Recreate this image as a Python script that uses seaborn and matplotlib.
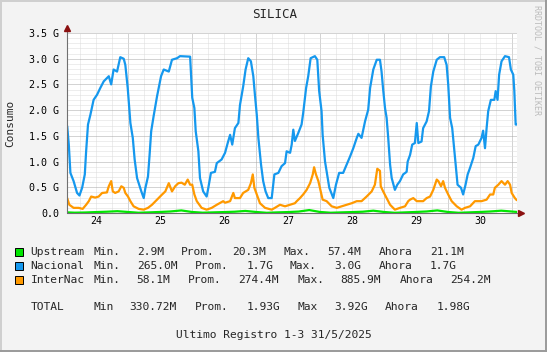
import matplotlib
matplotlib.use('Agg')
import numpy as np
import matplotlib.pyplot as plt
import seaborn as sns
from matplotlib.patches import Rectangle
from matplotlib.lines import Line2D

# hours counted from 24/5 00:00, values in G
nacional_h = [1.2, 1.8, 2.4, 3.6, 4.9, 5.8, 6.8, 7.8, 8.3, 9.0, 9.9, 11.1, 12.4, 13.6, 14.9, 16.8,
              17.7, 18.6, 19.9, 21.1, 22.4, 23.0, 23.9, 24.9, 25.8, 26.5, 27.4, 29.0, 29.9, 30.5,
              31.5, 32.1, 32.7, 33.6, 34.9, 36.4, 37.4, 39.3, 40.5, 42.4, 43.5, 47.3, 47.6, 48.1,
              48.9, 49.4, 50.4, 51.0, 52.2, 53.5, 54.1, 55.1, 56.6, 57.3, 59.1, 60.4, 61.4, 62.3,
              63.1, 64.1, 65.4, 66.0, 67.2, 68.1, 69.1, 70.1, 71.0, 71.6, 72.3, 72.9, 73.9, 74.7,
              75.6, 76.6, 77.9, 78.9, 80.4, 81.6, 82.9, 83.5, 84.8, 85.4, 86.0, 86.6, 87.9, 89.1,
              89.7, 90.8, 91.6, 92.5, 94.1, 95.0, 95.7, 96.6, 97.0, 97.9, 98.7, 99.5, 101.0, 102.0,
              103.2, 104.7, 106.0, 107.3, 108.5, 109.8, 110.4, 111.6, 112.9, 114.1, 114.8, 116.0,
              117.3, 118.5, 119.1, 119.7, 120.4, 121.0, 121.6, 122.3, 122.9, 124.1, 125.0, 126.0,
              127.2, 128.5, 128.9, 129.8, 130.6, 131.6, 132.3, 132.9, 134.1, 134.7, 136.0, 136.9,
              137.6, 138.5, 139.8, 141.0, 142.6, 143.5, 144.1, 144.8, 145.6, 146.4, 146.9, 147.6,
              148.9, 149.7, 150.6, 151.4, 152.3, 153.5, 154.4, 155.4, 156.6, 157.2, 157.9, 158.5,
              159.1, 160.1, 161.4, 161.9, 162.6, 163.2, 164.1, 165.4, 166.9, 167.6, 168.5, 168.9,
              169.4, 169.8]
nacional_v = [1.69, 1.33, 0.78, 0.62, 0.39, 0.34, 0.49, 0.75, 1.20, 1.72, 1.91, 2.20, 2.30, 2.43, 2.56, 2.66,
              2.50, 2.79, 2.75, 3.03, 3.00, 2.88, 2.43, 1.75, 1.46, 1.04, 0.68, 0.42, 0.29, 0.48,
              0.71, 1.13, 1.59, 1.88, 2.27, 2.66, 2.79, 2.75, 2.98, 3.01, 3.05, 3.04, 2.75, 2.24,
              2.04, 1.59, 1.20, 0.68, 0.42, 0.32, 0.48, 0.78, 0.80, 0.97, 1.04, 1.17, 1.36, 1.52,
              1.33, 1.65, 1.75, 2.10, 2.46, 2.79, 3.01, 2.95, 2.66, 2.30, 1.91, 1.46, 0.94, 0.62,
              0.42, 0.29, 0.29, 0.75, 0.78, 0.91, 0.97, 1.20, 1.17, 1.33, 1.62, 1.40, 1.56, 1.72,
              1.94, 2.43, 2.66, 3.01, 3.05, 2.98, 2.37, 1.98, 1.52, 1.00, 0.75, 0.49, 0.29, 0.55,
              0.78, 0.78, 0.94, 1.10, 1.26, 1.46, 1.54, 1.46, 1.78, 2.01, 2.43, 2.79,
              2.98, 2.98, 2.75, 2.40, 2.04, 1.85, 1.46, 0.94, 0.68, 0.45, 0.55, 0.62,
              0.75, 0.80, 1.00, 1.13, 1.33, 1.36, 1.75, 1.36, 1.39, 1.65, 1.78, 1.98,
              2.46, 2.75, 2.98, 3.03, 3.03, 2.88, 2.50, 1.85, 1.65, 1.20, 0.94, 0.55,
              0.49, 0.36, 0.55, 0.75, 0.88, 1.07, 1.30, 1.33, 1.46, 1.60, 1.26, 1.65,
              1.98, 2.20, 2.20, 2.37, 2.20, 2.69, 2.95, 3.05, 3.03, 2.79, 2.69, 2.37,
              1.72, 1.72]

internac_h = [1.2, 2.0, 3.6, 5.5, 7.0, 8.3, 9.3, 10.2, 11.7, 13.0, 14.3, 16.1, 16.8, 17.7, 18.3, 19.2,
              20.5, 21.5, 22.4, 23.0, 24.0, 24.9, 26.1, 28.0, 29.9, 31.5, 33.0, 34.9, 36.8, 38.0,
              39.3, 40.5, 41.7, 42.9, 44.1, 45.3, 46.4, 47.3, 48.1, 48.9, 49.8, 51.6, 53.5, 55.4,
              57.3, 59.7, 60.4, 62.3, 63.5, 64.1, 66.0, 67.2, 69.1, 70.1, 70.8, 71.4, 72.3, 73.5,
              75.4, 77.9, 79.1, 81.0, 82.9, 84.8, 86.6, 87.3, 88.5, 89.7, 91.0, 92.3, 93.3, 93.8,
              94.5, 95.4, 96.3, 97.0, 98.5, 100.4, 102.3, 104.1, 106.0, 107.9, 109.8, 111.6, 113.5,
              115.4, 116.6, 117.5, 118.5, 118.8, 119.7, 121.0, 122.3, 124.1, 126.0, 127.9, 129.1,
              129.8, 131.0, 132.3, 134.7, 136.0, 137.3, 138.5, 139.8, 140.4, 141.4, 142.2, 142.9,
              144.1, 145.4, 147.3, 149.1, 150.4, 152.3, 154.1, 156.6, 158.5, 159.8, 161.0, 161.6,
              162.9, 164.1, 165.4, 166.4, 167.3, 167.9, 169.1, 169.8]
internac_v = [0.29, 0.16, 0.10, 0.10, 0.08, 0.16, 0.23, 0.32, 0.30, 0.32, 0.39, 0.40, 0.52, 0.62, 0.42, 0.39,
              0.42, 0.52, 0.49, 0.39, 0.32, 0.23, 0.13, 0.08, 0.065, 0.10, 0.16, 0.26, 0.36, 0.42,
              0.58, 0.42, 0.52, 0.58, 0.59, 0.55, 0.65, 0.55, 0.55, 0.36, 0.23, 0.10, 0.065, 0.10,
              0.16, 0.23, 0.20, 0.23, 0.39, 0.29, 0.29, 0.39, 0.45, 0.58, 0.75, 0.49, 0.36, 0.19,
              0.10, 0.065, 0.10, 0.16, 0.13, 0.16, 0.19, 0.23, 0.29, 0.36, 0.45, 0.58, 0.75, 0.89,
              0.75, 0.62, 0.42, 0.26, 0.23, 0.13, 0.10, 0.13, 0.16, 0.19, 0.23, 0.23, 0.32,
              0.42, 0.55, 0.86, 0.82, 0.52, 0.42, 0.29, 0.16, 0.065, 0.10, 0.13, 0.23,
              0.26, 0.29, 0.23, 0.23, 0.29, 0.32, 0.45, 0.65, 0.62, 0.52, 0.62, 0.49,
              0.36, 0.23, 0.13, 0.065, 0.10, 0.13, 0.23, 0.23, 0.26, 0.36, 0.36, 0.49,
              0.55, 0.62, 0.55, 0.62, 0.55, 0.39, 0.29, 0.25]

upstream_h = [1.2, 4, 8, 12, 16, 20, 24, 28, 32, 36, 40, 44, 48, 52, 56, 60, 64, 68, 72, 76, 80, 84,
              88, 92, 96, 100, 104, 108, 112, 116, 120, 124, 128, 132, 136, 140, 144, 148, 152,
              156, 160, 164, 169.8]
upstream_v = [0.012, 0.006, 0.010, 0.018, 0.025, 0.035, 0.020, 0.005, 0.012, 0.020, 0.030, 0.050,
              0.020, 0.006, 0.012, 0.018, 0.025, 0.040, 0.020, 0.004, 0.012, 0.018, 0.028, 0.057,
              0.020, 0.005, 0.012, 0.018, 0.025, 0.045, 0.020, 0.004, 0.012, 0.020, 0.030, 0.050,
              0.020, 0.004, 0.012, 0.020, 0.030, 0.045, 0.021]

day_labels = ['24', '25', '26', '27', '28', '29', '30']
ytick_labels = ['0.0', '0.5 G', '1.0 G', '1.5 G', '2.0 G', '2.5 G', '3.0 G', '3.5 G']

legend_rows = [
    ('Upstream', '#00e600', ['Min.', '2.9M', 'Prom.', '20.3M', 'Max.', '57.4M', 'Ahora', '21.1M']),
    ('Nacional', '#1598ee', ['Min.', '265.0M', 'Prom.', '1.7G', 'Max.', '3.0G', 'Ahora', '1.7G']),
    ('InterNac', '#ff9900', ['Min.', '58.1M', 'Prom.', '274.4M', 'Max.', '885.9M', 'Ahora', '254.2M']),
]
legend_x = [
    [93.3, 137.3, 180.7, 231.7, 283.3, 327.3, 378.3, 430.0],
    [93.3, 136.7, 195.0, 246.7, 290.0, 334.3, 378.3, 430.0],
    [93.3, 136.7, 188.3, 238.3, 297.3, 340.7, 399.3, 450.0],
]
total_parts = ['TOTAL', 'Min', '330.72M', 'Prom.', '1.93G', 'Max', '3.92G', 'Ahora', '1.98G']
total_x = [30.7, 93.3, 129.3, 195.0, 246.7, 297.3, 334.3, 385.0, 436.7]

sns.set_theme(style='white')
plt.rcParams['font.family'] = ['DejaVu Sans Mono']

W, H = 547, 352
fig = plt.figure(figsize=(W / 100, H / 100), dpi=100, facecolor='#f3f3f3')
ax = fig.add_axes([67 / W, (H - 213) / H, 450 / W, 180 / H])
ax.set_facecolor('white')

# grid
for h in range(6, 170, 6):
    major = h % 24 == 0
    ax.axvline(h, color='#a8a8a8' if major else '#dcdcdc', lw=0.72, ls=(0, (1, 1)), zorder=0.5)
for i in range(1, 36):
    major = i % 5 == 0
    ax.axhline(i / 10, color='#a8a8a8' if major else '#dcdcdc', lw=0.72, ls=(0, (1, 1)), zorder=0.5)

sns.lineplot(x=upstream_h, y=upstream_v, color='#00e600', lw=1.6, ax=ax, zorder=3)
sns.lineplot(x=nacional_h, y=nacional_v, color='#1598ee', lw=1.6, ax=ax, zorder=3)
sns.lineplot(x=internac_h, y=internac_v, color='#ff9900', lw=1.6, ax=ax, zorder=3)

ax.set_xlim(1.125, 169.9)
ax.set_ylim(0, 3.5)
ax.set_xticks([12 + 24 * i for i in range(7)], day_labels)
ax.set_yticks([0.5 * i for i in range(8)], ytick_labels)
ax.tick_params(axis='both', length=0, labelsize=7.2, colors='#000000')
ax.tick_params(axis='y', pad=5.5)
ax.tick_params(axis='x', pad=2.5)
for s in ax.spines.values():
    s.set_visible(False)

# axes with arrows
ax.plot([0, 0], [0, 1 + 5 / 180], transform=ax.transAxes, color='#707070', lw=0.8, clip_on=False, zorder=4)
ax.plot([0, 1 + 4 / 450], [0, 0], transform=ax.transAxes, color='#707070', lw=0.8, clip_on=False, zorder=4)
ax.plot([0], [1 + 5 / 180], marker='^', ms=4.5, color='#8b1010', transform=ax.transAxes, clip_on=False, zorder=5)
ax.plot([1 + 4 / 450], [0], marker='>', ms=4.5, color='#8b1010', transform=ax.transAxes, clip_on=False, zorder=5)

# texts
fig.text(275 / W, 1 - 14 / H, 'SILICA', ha='center', va='center', fontsize=9)
fig.text(10.5 / W, 1 - 123 / H, 'Consumo', rotation=90, ha='center', va='center', fontsize=8)
fig.text(536.5 / W, 1 - 60 / H, 'RRDTOOL / TOBI OETIKER', rotation=270, ha='center', va='center',
         fontsize=6, color='#bbbbbb')

row_y = [252, 266.3, 280.3]
for (name, col, parts), xs, y in zip(legend_rows, legend_x, row_y):
    fig.patches.append(Rectangle((15 / W, 1 - (y + 4) / H), 7.5 / W, 8 / H, transform=fig.transFigure,
                                 facecolor=col, edgecolor='black', lw=0.7))
    fig.text(30.7 / W, 1 - y / H, name, ha='left', va='center', fontsize=8.1)
    for s, x in zip(parts, xs):
        fig.text(x / W, 1 - y / H, s, ha='left', va='center', fontsize=8.1)

for s, x in zip(total_parts, total_x):
    fig.text(x / W, 1 - 307.3 / H, s, ha='left', va='center', fontsize=8.1)

fig.text(0.5, 1 - 335.5 / H, 'Ultimo Registro 1-3 31/5/2025', ha='center', va='center', fontsize=8.1)

# frame
fig.add_artist(Line2D([0, 1], [1 - 1 / H, 1 - 1 / H], color='#cfcfcf', lw=1.4))
fig.add_artist(Line2D([1 / W, 1 / W], [0, 1], color='#cfcfcf', lw=1.4))
fig.add_artist(Line2D([1 - 1 / W, 1 - 1 / W], [0, 1], color='#9a9a9a', lw=1.4))
fig.add_artist(Line2D([0, 1], [1 / H, 1 / H], color='#9a9a9a', lw=1.4))

fig.savefig('out.png', dpi=100, facecolor=fig.get_facecolor())
